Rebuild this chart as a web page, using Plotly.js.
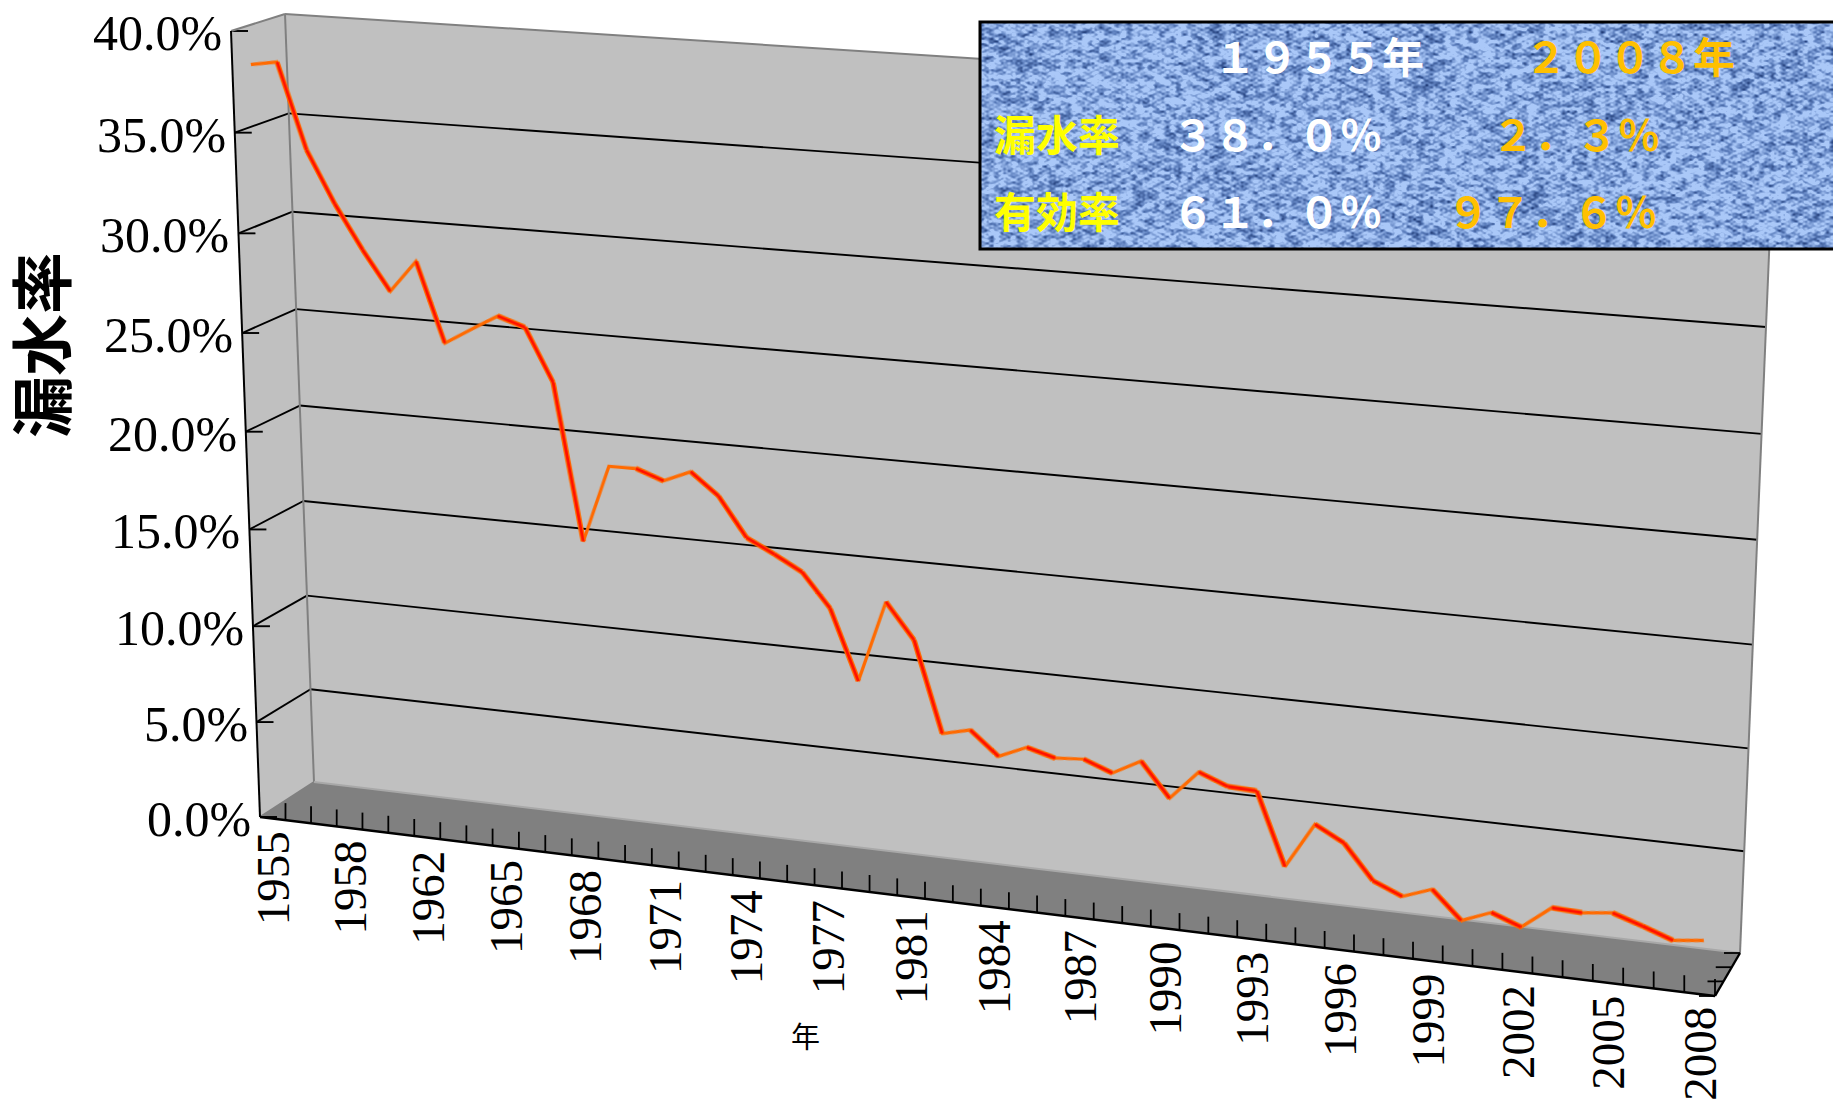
<!DOCTYPE html>
<html><head><meta charset="utf-8">
<script src="https://cdn.plot.ly/plotly-3.0.1.min.js"></script>
<style>
html,body{margin:0;padding:0;background:#fff;overflow:hidden;width:1833px;height:1104px}
#base{position:absolute;left:0;top:0;width:1833px;height:1104px}
#line{position:absolute;left:0;top:0;width:1452px;height:800px;transform-origin:0 0;pointer-events:none}
</style></head><body>
<div id="base"></div><div id="line"></div>
<script>
// ---- data ----
const years = [1955,1956,1957,1958,1960,1961,1962,1963,1964,1965,1966,1967,1968,1969,1970,1971,1972,1973,1974,1975,1976,1977,1978,1980,1981,1982,1983,1984,1985,1986,1987,1988,1989,1990,1991,1992,1993,1994,1995,1996,1997,1998,1999,2000,2001,2002,2003,2004,2005,2006,2007,2008];
const leakRate = [38.32,38.53,34.31,31.75,29.57,27.62,29.22,25.27,26.07,26.85,26.41,23.80,15.97,19.87,19.89,19.41,19.99,18.92,16.99,16.30,15.55,13.89,10.40,14.50,12.75,8.23,8.57,7.41,8.02,7.64,7.75,7.22,7.97,6.29,7.75,7.20,7.14,3.57,5.83,5.07,3.39,2.79,3.31,1.95,2.52,1.98,3.10,3.03,3.20,2.73,2.22,2.39];
const valueTicks = [0,5,10,15,20,25,30,35,40];
const valueTickLabels = ['0.0%','5.0%','10.0%','15.0%','20.0%','25.0%','30.0%','35.0%','40.0%'];
const yearTickEvery = 3;
const tableRows = [
 {text:'１９５５年', col:1222, row:57, color:'#ffffff'},
 {text:'２００８年', col:1533, row:57, color:'#ffc000'},
 {text:'漏水率', col:1002, row:135, color:'#ffff00'},
 {text:'３８．０％', col:1180, row:135, color:'#ffffff'},
 {text:'２．３％', col:1500, row:135, color:'#ffc000'},
 {text:'有効率', col:1002, row:212, color:'#ffff00'},
 {text:'６１．０％', col:1180, row:212, color:'#ffffff'},
 {text:'９７．６％', col:1455, row:212, color:'#ffc000'}
];
// ---- chart frame in page pixels ----
const FTL=[231,31], FBL=[260,817], FBR=[1715,996], FTR=[1750,135];
const BTL=[285,14], BBL=[314,782], BBR=[1740,953], BTR=[1775,110];
const mix=(a,b,t)=>[a[0]+(b[0]-a[0])*t,a[1]+(b[1]-a[1])*t];
const persp=t=>t/(1.1-0.1*t);
const perspV=t=>t/(t+1.04*(1-t));
const path=pts=>'M'+pts.map(p=>p[0]+','+p[1]).join('L');
const seg=(a,b,color,width,layer)=>({type:'line',xref:'x',yref:'y',x0:a[0],y0:a[1],x1:b[0],y1:b[1],layer:layer||'below',line:{color:color,width:width}});
const poly=(pts,fill)=>({type:'path',xref:'x',yref:'y',path:path(pts)+'Z',fillcolor:fill,line:{width:0},layer:'below'});

const shapes=[poly([FTL,BTL,BBL,FBL],'#c0c0c0'),poly([BTL,BTR,BBR,BBL],'#c0c0c0'),poly([FBL,BBL,BBR,FBR],'#808080')];
valueTicks.forEach(v=>{
  const t=perspV(v/40), f=mix(FBL,FTL,t), b=mix(BBL,BTL,t), r=mix(BBR,BTR,t);
  if(v>0&&v<40){shapes.push(seg(f,b,'#000',1.9));shapes.push(seg(b,r,'#000',1.9));}
  shapes.push(seg(f,[f[0]+17,f[1]],'#000',1.9));
});
shapes.push(seg(BTL,BBL,'#808080',2),seg(BTL,BTR,'#808080',2),seg(BTR,BBR,'#808080',2),seg(FTL,BTL,'#808080',2),seg(FBL,BBL,'#808080',2));
shapes.push(seg(BBL,BBR,'#a8a8a8',2));
shapes.push(seg(FTL,FBL,'#000',2),seg(FBL,FBR,'#000',2.4),seg(FBR,BBR,'#000',2.4));
for(let k=1;k<=years.length;k++){
  const p=mix(FBL,FBR,persp(k/years.length));
  shapes.push(seg(p,[p[0],p[1]-17],'#000',1.8));
}
[0,0.33,0.66,1].forEach(t=>{const p=mix(BBR,FBR,t);shapes.push(seg(p,[p[0]-16,p[1]],'#000',1.8));});
shapes.push({type:'rect',xref:'x',yref:'y',x0:980,y0:22,x1:1845,y1:249,line:{color:'#000',width:3},fillcolor:'rgba(0,0,0,0)',layer:'above'});

const ann=[];
const SER='"Liberation Serif",serif', CJK='"Noto Sans CJK JP",sans-serif';
valueTicks.forEach((v,i)=>{
  const f=mix(FBL,FTL,perspV(v/40));
  ann.push({xref:'x',yref:'y',x:f[0]-7,y:f[1]+2,text:valueTickLabels[i],showarrow:false,xanchor:'right',yanchor:'middle',font:{family:SER,size:50,color:'#000'}});
});
years.forEach((yr,i)=>{
  if(i%yearTickEvery) return;
  const p=mix(FBL,FBR,persp((i+.5)/years.length));
  ann.push({xref:'x',yref:'y',x:p[0],y:p[1]+11,text:String(yr),showarrow:false,textangle:-90,xanchor:'center',yanchor:'top',font:{family:SER,size:47,color:'#000'}});
});
ann.push({xref:'x',yref:'y',x:39,y:345,text:'漏水率',showarrow:false,textangle:-90,font:{family:CJK,size:62,weight:700,color:'#000'}});
ann.push({xref:'x',yref:'y',x:805,y:1035,text:'年',showarrow:false,font:{family:CJK,size:29,color:'#000'}});
tableRows.forEach(c=>ann.push({xref:'x',yref:'y',x:c.col-10,y:c.row-3,text:c.text,showarrow:false,xanchor:'left',yanchor:'middle',font:{family:CJK,size:42,weight:700,color:c.color}}));

// woven cloth texture for the table background
function cloth(w,h){
  const c=document.createElement('canvas');c.width=w;c.height=h;
  const g=c.getContext('2d'),im=g.createImageData(w,h);
  const hash=(a,b)=>{const s=Math.sin(a*12.9898+b*78.233)*43758.5453;return s-Math.floor(s);};
  const sm=t=>t*t*(3-2*t);
  const noise=(x,y)=>{const X=Math.floor(x),Y=Math.floor(y),u=sm(x-X),v=sm(y-Y);
    const a=hash(X,Y),b=hash(X+1,Y),d=hash(X,Y+1),e=hash(X+1,Y+1);
    return a+(b-a)*u+(d-a)*v+(a-b-d+e)*u*v;};
  const D=[34,62,122],M=[96,130,192],L=[170,200,248];
  for(let y=0;y<h;y++)for(let x=0;x<w;x++){
    let b=0.15+0.62*noise(x/5.5,y/3.2)+0.30*noise(x/2.4+40,y/2.4+9)+0.12*noise(x/40+7,y/30+3)
      +0.10*Math.sin(Math.PI*y/2.2)*Math.sin(Math.PI*x/4.4);
    b=Math.max(0,Math.min(1,(b-0.5)*1.5+0.5));
    const A=b<.5?D:M,B=b<.5?M:L,k=b<.5?b*2:(b-.5)*2,i=(y*w+x)*4;
    for(let j=0;j<3;j++)im.data[i+j]=A[j]+(B[j]-A[j])*k;
    im.data[i+3]=255;
  }
  g.putImageData(im,0,0);return c.toDataURL('image/png');
}

Plotly.newPlot('base',[{type:'scatter',x:[0,1833],y:[0,1104],mode:'none',hoverinfo:'skip',showlegend:false}],{
  width:1833,height:1104,margin:{l:0,r:0,t:0,b:0},paper_bgcolor:'#fff',plot_bgcolor:'#fff',showlegend:false,
  xaxis:{range:[0,1833],visible:false,fixedrange:true},
  yaxis:{range:[1104,0],visible:false,fixedrange:true},
  shapes:shapes,annotations:ann,
  images:[{source:cloth(865,227),xref:'x',yref:'y',x:980,y:22,sizex:865,sizey:227,sizing:'stretch',xanchor:'left',yanchor:'top',layer:'above'}]
},{displayModeBar:false,staticPlot:true});

// the series: real category / percent axes, on a plane placed by perspective
const lineW=1452,lineH=800,depth=0.1;
const plane={TL:mix(FTL,BTL,depth),BL:mix(FBL,BBL,depth),BR:mix(FBR,BBR,depth),TR:mix(FTR,BTR,depth)};
function quad(w,h,q){
  const [x0,y0]=q[0],[x1,y1]=q[1],[x2,y2]=q[2],[x3,y3]=q[3];
  const dx1=x1-x2,dx2=x3-x2,dx3=x0-x1+x2-x3,dy1=y1-y2,dy2=y3-y2,dy3=y0-y1+y2-y3;
  const den=dx1*dy2-dx2*dy1,G=(dx3*dy2-dx2*dy3)/den,H=(dx1*dy3-dx3*dy1)/den;
  const a=x1-x0+G*x1,b=x3-x0+H*x3,d=y1-y0+G*y1,e=y3-y0+H*y3;
  return 'matrix3d('+[a/w,d/w,0,G/w,b/h,e/h,0,H/h,0,0,1,0,x0,y0,0,1].join(',')+')';
}
document.getElementById('line').style.transform=quad(lineW,lineH,[plane.TL,plane.TR,plane.BR,plane.BL]);
const xcats=years.map(String);
// the ribbon looks thick with a red core where the series falls, thin where it rises
const fallX=[],fallY=[];
leakRate.forEach((v,i)=>{
  if(i<leakRate.length-1&&leakRate[i+1]<v){fallX.push(xcats[i],xcats[i+1],xcats[i+1]);fallY.push(v,leakRate[i+1],null);}
});
const lt=(x,y,color,width)=>({type:'scatter',mode:'lines',x:x,y:y,connectgaps:false,line:{color:color,width:width,shape:'linear',simplify:false},hoverinfo:'skip',showlegend:false});
Plotly.newPlot('line',[
 lt(xcats,leakRate,'#ff6a00',3.2),
 lt(fallX,fallY,'#ff6a00',5.6),
 lt(fallX,fallY,'#ff0f00',2.8)
],{
  width:lineW,height:lineH,margin:{l:0,r:0,t:0,b:0},paper_bgcolor:'rgba(0,0,0,0)',plot_bgcolor:'rgba(0,0,0,0)',showlegend:false,
  xaxis:{type:'category',categoryorder:'array',categoryarray:xcats,range:[-0.5,years.length-0.5],visible:false,fixedrange:true},
  yaxis:{range:[0,40],visible:false,fixedrange:true}
},{displayModeBar:false,staticPlot:true});
</script></body></html>
